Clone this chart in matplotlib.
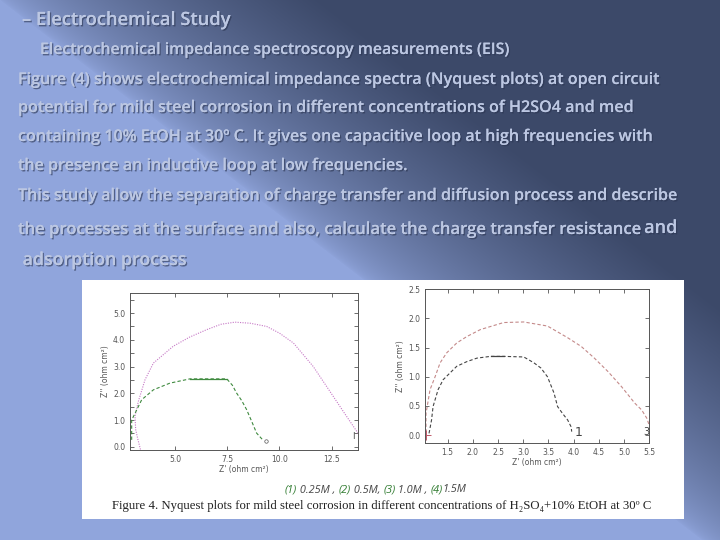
import numpy as np
import matplotlib
matplotlib.use("Agg")
import matplotlib.pyplot as plt
import matplotlib.patheffects as pe
from matplotlib.ticker import MultipleLocator

# --- slide text ---
heading = "\u2013 Electrochemical Study"
subheading = "Electrochemical impedance spectroscopy measurements (EIS)"
body_lines = [
    "Figure (4) shows electrochemical impedance spectra (Nyquest plots) at open circuit",
    "potential for mild steel corrosion in different concentrations of H2SO4 and med",
    "containing 10% EtOH at 30\u00ba C. It gives one capacitive loop at high frequencies with",
    "the presence an inductive loop at low frequencies.",
    "This study allow the separation of charge transfer and diffusion process and describe",
    "the processes at the surface and also, calculate the charge transfer resistance",
    " adsorption process",
]
body_y = [80, 108, 137, 166, 196, 230, 260]
body_size = [11.6, 11.6, 11.6, 11.6, 11.6, 12.0, 12.8]

# --- left Nyquist plot ---
mag_x = [3.35, 3.22, 3.12, 3.09, 3.25, 3.57, 3.97, 4.92, 5.70, 6.52, 7.20, 7.87, 8.60,
         9.39, 10.00, 10.67, 11.62, 12.58, 13.22, 13.76]
mag_y = [-0.10, 0.30, 0.65, 1.14, 1.70, 2.51, 3.13, 3.76, 4.10, 4.38, 4.58, 4.66, 4.62,
         4.50, 4.25, 3.88, 3.00, 1.88, 1.13, 0.51]
grn_x = [2.93, 2.93, 3.09, 3.41, 3.97, 4.76, 5.72, 7.48, 7.75, 7.95, 8.20, 8.43, 8.70, 8.91, 9.20]
grn_y = [0.26, 1.00, 1.25, 1.76, 2.13, 2.38, 2.54, 2.54, 2.30, 2.01, 1.72, 1.39, 0.90, 0.51, 0.26]

# --- right Nyquist plot ---
out_x = [1.07, 1.07, 1.15, 1.25, 1.35, 1.48, 1.68, 1.88, 2.15, 2.61, 3.01, 3.48, 3.88,
         4.15, 4.41, 4.68, 4.95, 5.21, 5.35, 5.45, 5.51, 5.51]
out_y = [-0.05, 0.37, 0.78, 1.00, 1.24, 1.41, 1.58, 1.69, 1.81, 1.93, 1.94, 1.87, 1.67,
         1.52, 1.32, 1.09, 0.83, 0.55, 0.43, 0.29, 0.14, 0.00]
inn_x = [1.13, 1.18, 1.21, 1.31, 1.41, 1.68, 1.88, 2.08, 2.35, 2.61, 3.01, 3.21, 3.35,
         3.48, 3.61, 3.68, 3.78, 3.88, 3.95, 3.96]
inn_y = [0.03, 0.26, 0.49, 0.78, 0.95, 1.18, 1.26, 1.32, 1.35, 1.35, 1.34, 1.24, 1.15,
         1.00, 0.72, 0.49, 0.37, 0.26, 0.14, 0.06]

legend_parts = [("(1)", " 0.25M , "), ("(2)", " 0.5M, "), ("(3)", " 1.0M , "), ("(4)", "1.5M")]
caption = "Figure 4. Nyquest plots for mild steel corrosion in different concentrations of H\u2082SO\u2084+10% EtOH at 30\u00ba C"

W, H = 720, 540
fig = plt.figure(figsize=(7.2, 5.4), dpi=100)
renderer = fig.canvas.get_renderer()

# background gradient
yy, xx = np.mgrid[0:H, 0:W]
d = xx - (20 + 1.3 * yy)
t = np.clip((d + 20) / 320.0, 0, 1) ** 0.6
light = np.array([0x90, 0xa5, 0xdc]) / 255
dark = np.array([0x3c, 0x49, 0x69]) / 255
bg = light[None, None, :] * (1 - t[..., None]) + dark[None, None, :] * t[..., None]
bax = fig.add_axes([0, 0, 1, 1])
bax.imshow(bg, extent=[0, W, H, 0], aspect="auto")
bax.set_xlim(0, W)
bax.set_ylim(H, 0)
bax.axis("off")

txt_col = "#bcc7e2"
shadow = [pe.withSimplePatchShadow(offset=(1, -1), shadow_rgbFace="#2a3450", alpha=0.6), pe.Normal()]
font = "Open Sans"
tkw = dict(color=txt_col, family=font, va="center", weight="semibold", path_effects=shadow)

bax.text(22, 20, heading, fontsize=13.2, **tkw)
bax.text(40, 50, subheading, fontsize=11.4, **tkw)
last = None
for line, y, fs in zip(body_lines, body_y, body_size):
    tl = bax.text(18, y, line, fontsize=fs, **tkw)
    if line.endswith("resistance"):
        last = tl
# the trailing "and" on line 8 is set in a larger size
ex = last.get_window_extent(renderer=renderer)
bax.text(ex.x1 + 1, 228, "and", fontsize=13, **tkw)

# white picture panel
bax.add_patch(plt.Rectangle((82, 280), 602, 239, facecolor="white", edgecolor="none"))

tick_kw = dict(direction="in", labelsize=5.5, colors="#555555", length=3, width=0.6)


def style(ax):
    for s in ax.spines.values():
        s.set_color("#555555")
        s.set_linewidth(0.7)
    ax.tick_params(which="both", top=True, right=True, **tick_kw)
    ax.tick_params(axis="x", labeltop=False)


# left plot
ax1 = fig.add_axes([130 / W, 1 - 450 / H, 228 / W, 157 / H])
ax1.plot(mag_x, mag_y, color="#c678c6", lw=0.8, ls=(0, (1, 1.2)))
ax1.plot(grn_x, grn_y, color="#3f8a3f", lw=0.8, ls=(0, (3, 2)))
ax1.plot(grn_x[6:8], grn_y[6:8], color="#3f8a3f", lw=0.9)
ax1.plot(grn_x[-1] + 0.15, grn_y[-1] - 0.04, marker="o", ms=2.5, mfc="none", mec="#555555", mew=0.5)
ax1.text(13.55, 0.38, "I", fontsize=6, color="#444444", ha="center", va="center")
ax1.set_xlim(2.85, 13.76)
ax1.set_ylim(-0.12, 5.75)
ax1.xaxis.set_major_locator(MultipleLocator(2.5))
ax1.yaxis.set_major_locator(MultipleLocator(1.0))
ax1.yaxis.set_minor_locator(MultipleLocator(0.5))
ax1.xaxis.set_major_formatter("{x:.1f}")
ax1.yaxis.set_major_formatter("{x:.1f}")
style(ax1)
ax1.set_xlabel("Z' (ohm cm\u00b2)", fontsize=5.5, color="#555555", labelpad=1)
ax1.set_ylabel("Z'' (ohm cm\u00b2)", fontsize=5.5, color="#555555", labelpad=2)

# right plot
ax2 = fig.add_axes([425 / W, 1 - 442.7 / H, 224.3 / W, 153.4 / H])
ax2.plot(out_x, out_y, color="#c48a8a", lw=0.8, ls=(0, (3, 2)))
ax2.plot(inn_x, inn_y, color="#444444", lw=0.8, ls=(0, (3, 2)))
ax2.plot(inn_x[8:10], inn_y[8:10], color="#444444", lw=0.9)
ax2.plot(out_x[0], 0.0, marker="+", ms=7, color="#c05a6a", mew=0.7)
ax2.text(4.1, 0.04, "1", fontsize=9, color="#444444", ha="center", va="center")
ax2.text(5.45, 0.06, "3", fontsize=7, color="#444444", ha="center", va="center")
ax2.set_xlim(1.05, 5.5)
ax2.set_ylim(-0.13, 2.5)
ax2.xaxis.set_major_locator(MultipleLocator(0.5))
ax2.yaxis.set_major_locator(MultipleLocator(0.5))
ax2.xaxis.set_major_formatter("{x:.1f}")
ax2.yaxis.set_major_formatter("{x:.1f}")
style(ax2)
ax2.set_xlabel("Z' (ohm cm\u00b2)", fontsize=5.5, color="#555555", labelpad=1)
ax2.set_ylabel("Z'' (ohm cm\u00b2)", fontsize=5.5, color="#555555", labelpad=2)

# legend line built from coloured pieces
x = 285
for num, rest in legend_parts:
    for s, c in ((num, "#2e7a2e"), (rest, "#444444")):
        tt = bax.text(x, 490, s, fontsize=7.8, color=c, style="italic", family=font, va="center")
        x += tt.get_window_extent(renderer=renderer).width
bax.text(382, 506, caption, fontsize=9.2, color="#222222",
         family=["Liberation Serif", "DejaVu Serif"], ha="center", va="center")

fig.savefig("out.png", dpi=100)
